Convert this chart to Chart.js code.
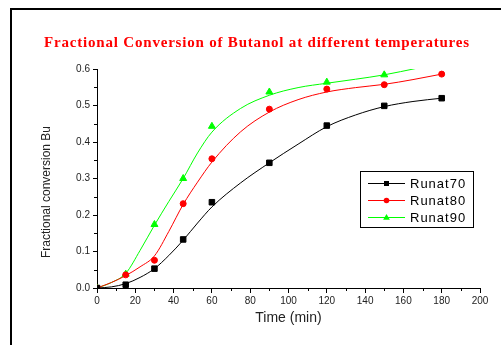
<!DOCTYPE html>
<html>
<head>
<meta charset="utf-8">
<script src="https://cdn.jsdelivr.net/npm/chart.js@4"></script>
<style>
html, body { margin: 0; padding: 0; background: #fff; }
#wrap { width: 501px; height: 345px; }
</style>
</head>
<body>
<div id="wrap"><canvas id="chart" width="501" height="345"></canvas></div>
<script>
// Measured points (time in min, fractional conversion)
const times = [0, 15, 30, 45, 60, 90, 120, 150, 180];
const run70 = [0, 0.009, 0.053, 0.133, 0.235, 0.343, 0.445, 0.499, 0.520];
const run80 = [0, 0.036, 0.076, 0.231, 0.354, 0.490, 0.545, 0.557, 0.586];
const times90 = [0, 15, 30, 45, 60, 90, 120, 150];
const run90 = [0, 0.038, 0.174, 0.300, 0.443, 0.537, 0.564, 0.584];

// Fitted curves
const fitTimes = [0, 7.5, 15, 22.5, 30, 37.5, 45, 52.5, 60, 75, 90, 105, 120, 135, 150, 165, 180];
const fit70 = [0, 0.003, 0.012, 0.029, 0.053, 0.089, 0.131, 0.178, 0.222, 0.288, 0.343, 0.394, 0.442, 0.474, 0.497, 0.511, 0.520];
const fit80 = [0, 0.015, 0.034, 0.058, 0.088, 0.155, 0.229, 0.290, 0.345, 0.428, 0.482, 0.516, 0.537, 0.549, 0.558, 0.571, 0.586];
const fitTimes90 = [0, 7.5, 15, 22.5, 30, 37.5, 45, 52.5, 60, 75, 90, 105, 120, 135, 150, 167];
const fit90 = [0, 0.015, 0.040, 0.103, 0.172, 0.237, 0.300, 0.370, 0.427, 0.492, 0.528, 0.549, 0.561, 0.572, 0.584, 0.602];

const seriesNames = ['Runat70', 'Runat80', 'Runat90'];
const seriesColors = ['#000000', '#ff0000', '#00ff00'];
const seriesStyles = ['rect', 'circle', 'triangle'];

const xTicks = { min: 0, max: 200, step: 20 };
const yTicks = { min: 0, max: 0.6, step: 0.1 };

const chartTitle = 'Fractional Conversion of Butanol at different temperatures';
const sans = '"Liberation Sans", Arial, sans-serif';

function toXY(xs, ys) {
    return xs.map((x, i) => ({ x: x, y: ys[i] }));
}

function fitSet(xs, ys, color) {
    return {
        data: toXY(xs, ys),
        showLine: true,
        borderColor: color,
        borderWidth: 1,
        pointRadius: 0,
        cubicInterpolationMode: 'monotone',
        order: 2
    };
}

function pointSet(name, xs, ys, color, style) {
    const r = style === 'rect' ? 3.9 : (style === 'circle' ? 3 : 4);
    return {
        label: name,
        data: toXY(xs, ys),
        showLine: false,
        pointStyle: style,
        pointRadius: r,
        pointBackgroundColor: color,
        pointBorderColor: color,
        pointBorderWidth: 1,
        order: 1
    };
}

function drawMarker(ctx, style, x, y, color) {
    ctx.fillStyle = color;
    ctx.beginPath();
    if (style === 'rect') {
        ctx.rect(x - 2.5, y - 2.5, 5, 5);
    } else if (style === 'circle') {
        ctx.arc(x, y, 2.8, 0, Math.PI * 2);
    } else {
        ctx.moveTo(x, y - 3.6);
        ctx.lineTo(x + 3.4, y + 2.2);
        ctx.lineTo(x - 3.4, y + 2.2);
        ctx.closePath();
    }
    ctx.fill();
}

// Frame, title, minor ticks, y title and legend box
const decor = {
    id: 'decor',
    beforeDraw(chart) {
        const ctx = chart.ctx;
        ctx.save();
        ctx.fillStyle = '#fff';
        ctx.fillRect(0, 0, chart.width, chart.height);
        ctx.fillStyle = '#000';
        ctx.fillRect(10, 8, chart.width - 10, 2);
        ctx.fillRect(10, 8, 2, chart.height - 8);
        ctx.restore();
    },
    afterDraw(chart) {
        const ctx = chart.ctx;
        const xs = chart.scales.x, ys = chart.scales.y;
        const area = chart.chartArea;
        ctx.save();

        // title
        ctx.save();
        ctx.font = 'bold 15px "Liberation Serif", "Times New Roman", serif';
        ctx.fillStyle = '#ff0000';
        ctx.textAlign = 'center';
        ctx.textBaseline = 'alphabetic';
        if ('letterSpacing' in ctx) ctx.letterSpacing = '0.8px';
        ctx.fillText(chartTitle, 257, 47);
        ctx.restore();

        ctx.strokeStyle = '#000';
        ctx.lineWidth = 1;
        ctx.beginPath();
        for (let v = xTicks.min + xTicks.step / 2; v < xTicks.max; v += xTicks.step) {
            const px = Math.round(xs.getPixelForValue(v)) + 0.5;
            ctx.moveTo(px, area.bottom);
            ctx.lineTo(px, area.bottom + 3);
        }
        for (let v = yTicks.min + yTicks.step / 2; v < yTicks.max; v += yTicks.step) {
            const py = Math.round(ys.getPixelForValue(v)) + 0.5;
            ctx.moveTo(area.left - 3, py);
            ctx.lineTo(area.left, py);
        }
        ctx.stroke();

        // y axis title
        ctx.save();
        ctx.translate(47, 192);
        ctx.rotate(-Math.PI / 2);
        ctx.fillStyle = '#222';
        ctx.font = '12px ' + sans;
        ctx.textAlign = 'center';
        ctx.textBaseline = 'middle';
        ctx.fillText('Fractional conversion Bu', 0, 0);
        ctx.restore();

        // legend
        ctx.strokeStyle = '#000';
        ctx.strokeRect(360.5, 171.5, 113, 56);
        const rows = [183, 200, 217];
        ctx.font = '13px ' + sans;
        ctx.textBaseline = 'middle';
        ctx.textAlign = 'left';
        if ('letterSpacing' in ctx) ctx.letterSpacing = '1px';
        seriesNames.forEach((name, i) => {
            const y = rows[i] + 0.5;
            ctx.strokeStyle = seriesColors[i];
            ctx.beginPath();
            ctx.moveTo(368, y);
            ctx.lineTo(405, y);
            ctx.stroke();
            drawMarker(ctx, seriesStyles[i], 386.5, y, seriesColors[i]);
            ctx.fillStyle = '#000';
            ctx.fillText(name, 410, rows[i] + 1);
        });
        ctx.restore();
    }
};

const tickFont = { family: sans, size: 10 };

new Chart(document.getElementById('chart').getContext('2d'), {
    type: 'scatter',
    data: {
        datasets: [
            fitSet(fitTimes, fit70, seriesColors[0]),
            fitSet(fitTimes, fit80, seriesColors[1]),
            fitSet(fitTimes90, fit90, seriesColors[2]),
            pointSet(seriesNames[0], times, run70, seriesColors[0], seriesStyles[0]),
            pointSet(seriesNames[1], times, run80, seriesColors[1], seriesStyles[1]),
            pointSet(seriesNames[2], times90, run90, seriesColors[2], seriesStyles[2])
        ]
    },
    options: {
        responsive: false,
        animation: false,
        layout: { padding: { left: 0, right: 21, top: 69, bottom: 0 } },
        plugins: {
            legend: { display: false },
            tooltip: { enabled: false },
            title: { display: false }
        },
        scales: {
            x: {
                type: 'linear',
                min: xTicks.min,
                max: xTicks.max,
                ticks: { stepSize: xTicks.step, color: '#222', font: tickFont, padding: 2, maxRotation: 0 },
                grid: { drawOnChartArea: false, tickLength: 5, color: '#000' },
                border: { color: '#000', width: 1 },
                title: {
                    display: true,
                    text: 'Time (min)',
                    color: '#222',
                    font: { family: sans, size: 14 },
                    padding: { top: 0, bottom: 18 }
                },
                afterFit(scale) { scale.height = 57; }
            },
            y: {
                type: 'linear',
                min: yTicks.min,
                max: yTicks.max,
                ticks: { stepSize: yTicks.step, color: '#222', font: tickFont, padding: 3, callback: v => v.toFixed(1) },
                grid: { drawOnChartArea: false, tickLength: 4, color: '#000' },
                border: { color: '#000', width: 1 },
                afterFit(scale) { scale.width = 97; }
            }
        }
    },
    plugins: [decor]
});
</script>
</body>
</html>
